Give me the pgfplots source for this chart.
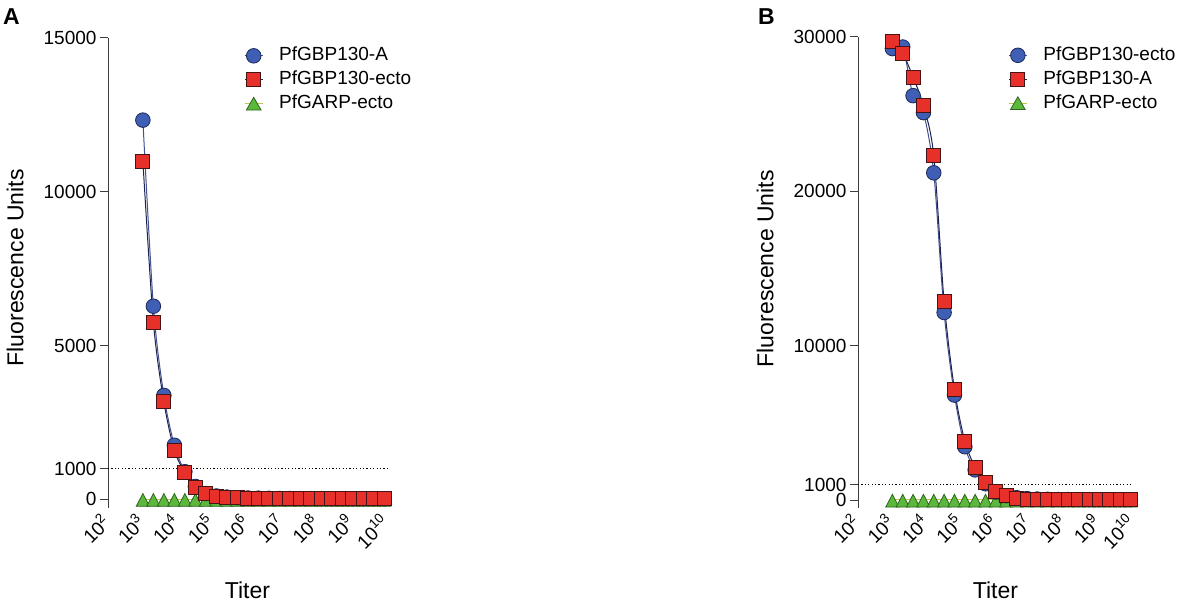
\documentclass[border=0pt]{standalone}
\usepackage{fontspec}
\setmainfont{Liberation Sans}
\usepackage{pgfplots}
\pgfplotsset{compat=1.18}
\usepackage{pgfplotstable}

\definecolor{cblue}{RGB}{63,95,181}
\definecolor{cblueedge}{RGB}{30,40,90}
\definecolor{cred}{RGB}{232,48,42}
\definecolor{credge}{RGB}{70,20,20}
\definecolor{cgreen}{RGB}{92,184,60}
\definecolor{cgreenedge}{RGB}{45,100,30}
\definecolor{lblue}{RGB}{65,80,145}
\definecolor{lnavy}{RGB}{30,35,80}
\definecolor{lgreen}{RGB}{190,200,70}
\definecolor{axgray}{RGB}{60,60,60}

\newcommand{\ex}[1]{\raisebox{0.42em}{\fontsize{13.5}{14}\selectfont #1}}

% Panel A: x = titer, a = PfGBP130-A, b = PfGBP130-ecto, c = PfGARP-ecto
\pgfplotstableread{
x a b c
1e3 12330 11000 10
2e3 6280 5770 10
4e3 3380 3170 10
8e3 1760 1600 10
1.6e4 900 870 10
3.2e4 420 400 10
6.4e4 190 185 10
1.28e5 110 100 10
2.56e5 75 70 10
5.12e5 55 50 10
1.024e6 45 40 10
2.048e6 40 35 10
4.096e6 35 30 10
8.192e6 30 28 10
1.6384e7 30 25 10
3.2768e7 25 25 10
6.5536e7 25 22 10
1.31072e8 25 20 10
2.62144e8 20 20 10
5.24288e8 20 20 10
1.048576e9 20 20 10
2.097152e9 20 20 10
4.194304e9 20 20 10
8.388608e9 20 20 10
}\dataA

% Panel B: x = titer, a = PfGBP130-ecto, b = PfGBP130-A, c = PfGARP-ecto
\pgfplotstableread{
x a b c
1e3 29250 29700 10
2e3 29350 28950 10
4e3 26200 27400 10
8e3 25100 25550 10
1.6e4 21200 22300 10
3.2e4 12150 12850 10
6.4e4 6800 7170 10
1.28e5 3450 3820 10
2.56e5 1950 2120 10
5.12e5 1050 1150 10
1.024e6 520 580 10
2.048e6 280 320 10
4.096e6 150 130 10
8.192e6 90 70 10
1.6384e7 60 50 10
3.2768e7 45 40 10
6.5536e7 35 30 10
1.31072e8 30 25 10
2.62144e8 25 25 10
5.24288e8 25 20 10
1.048576e9 20 20 10
2.097152e9 20 20 10
4.194304e9 20 20 10
8.388608e9 20 20 10
}\dataB

\tikzset{
  circ/.style={color=lblue, line width=1pt, mark=*, mark size=7.3pt,
    mark options={fill=cblue, draw=cblueedge, line width=0.8pt}, smooth},
  sq/.style={color=lnavy, line width=1pt, mark=square*, mark size=7pt,
    mark options={fill=cred, draw=credge, line width=0.8pt}, smooth},
  tri/.style={color=lgreen, line width=1pt, mark=triangle*, mark size=8.5pt,
    mark options={fill=cgreen, draw=cgreenedge, line width=0.8pt, xscale=0.9, yshift=-3pt}, smooth},
  trileg/.style={color=lgreen, line width=1pt, mark=triangle*, mark size=8.5pt,
    mark options={fill=cgreen, draw=cgreenedge, line width=0.8pt, yshift=-2pt}},
  thr/.style={black, line width=0.9pt, dash pattern=on 1.2pt off 2.2pt},
}

\begin{document}
\begin{tikzpicture}
% ---------------- Panel A ----------------
\begin{axis}[
  scale only axis,
  at={(108pt,97pt)}, anchor=south west,
  width=279pt, height=470pt,
  xmode=log, log basis x=10,
  xmin=1e2, xmax=1e10,
  ymin=-280, ymax=15000,
  scaled y ticks=false,
  axis x line*=bottom, axis y line*=left,
  x axis line style={draw=none},
  major x tick style={draw=none},
  xminorticks=false, yminorticks=false,
  xtick={1e2,1e3,1e4,1e5,1e6,1e7,1e8,1e9,1e10},
  xticklabels={10\ex{2},10\ex{3},10\ex{4},10\ex{5},10\ex{6},10\ex{7},10\ex{8},10\ex{9},10\ex{10}},
  xticklabel style={rotate=45, anchor=east, font=\fontsize{19}{22}\selectfont},
  ytick={0,1000,5000,10000,15000},
  yticklabels={0,1000,5000,10000,15000},
  yticklabel style={font=\fontsize{19}{22}\selectfont},
  tick align=outside, major tick length=8pt,
  y axis line style={axgray, line width=1pt},
  major y tick style={axgray, line width=1pt},
  clip=false,
  xlabel={Titer}, ylabel={Fluorescence Units},
  xlabel style={at={(axis description cs:0.5,-0.1745)}, anchor=center, font=\fontsize{23}{27}\selectfont},
  ylabel style={at={(axis description cs:-0.333,0.511)}, anchor=center, font=\fontsize{23}{27}\selectfont},
  legend style={at={(axis description cs:0.4875,0.988)}, draw=none, fill=none, anchor=north west, font=\fontsize{19}{22}\selectfont,
    inner sep=0pt, column sep=13pt, nodes={inner sep=3pt, text height=14pt, text depth=4pt}},
  legend cell align=left,
  legend image code/.code={\draw[mark repeat=2,mark phase=2,#1] plot coordinates {(0pt,0pt) (9pt,0pt) (18pt,0pt)};},
]
\addlegendimage{circ}
\addlegendimage{sq}
\addlegendimage{trileg}
\addplot[thr, forget plot] coordinates {(1e2,1000) (1e10,1000)};
\addplot[tri, forget plot] table[x=x, y=c] {\dataA};
\addplot[circ, forget plot] table[x=x, y=a] {\dataA};
\addplot[sq, forget plot] table[x=x, y=b] {\dataA};
\legend{PfGBP130-A, PfGBP130-ecto, PfGARP-ecto}
\end{axis}

% ---------------- Panel B ----------------
\begin{axis}[
  scale only axis,
  at={(858pt,97pt)}, anchor=south west,
  width=275pt, height=471pt,
  xmode=log, log basis x=10,
  xmin=1e2, xmax=1e10,
  ymin=-518, ymax=30000,
  scaled y ticks=false,
  axis x line*=bottom, axis y line*=left,
  x axis line style={draw=none},
  major x tick style={draw=none},
  xminorticks=false, yminorticks=false,
  xtick={1e2,1e3,1e4,1e5,1e6,1e7,1e8,1e9,1e10},
  xticklabels={10\ex{2},10\ex{3},10\ex{4},10\ex{5},10\ex{6},10\ex{7},10\ex{8},10\ex{9},10\ex{10}},
  xticklabel style={rotate=45, anchor=east, font=\fontsize{19}{22}\selectfont},
  ytick={0,1000,10000,20000,30000},
  yticklabels={0,1000,10000,20000,30000},
  yticklabel style={font=\fontsize{19}{22}\selectfont},
  tick align=outside, major tick length=8pt,
  y axis line style={axgray, line width=1pt},
  major y tick style={axgray, line width=1pt},
  clip=false,
  xlabel={Titer}, ylabel={Fluorescence Units},
  xlabel style={at={(axis description cs:0.5,-0.174)}, anchor=center, font=\fontsize{23}{27}\selectfont},
  ylabel style={at={(axis description cs:-0.338,0.508)}, anchor=center, font=\fontsize{23}{27}\selectfont},
  legend style={at={(axis description cs:0.546,0.987)}, draw=none, fill=none, anchor=north west, font=\fontsize{19}{22}\selectfont,
    inner sep=0pt, column sep=13pt, nodes={inner sep=3pt, text height=14pt, text depth=4pt}},
  legend cell align=left,
  legend image code/.code={\draw[mark repeat=2,mark phase=2,#1] plot coordinates {(0pt,0pt) (9pt,0pt) (18pt,0pt)};},
]
\addlegendimage{circ}
\addlegendimage{sq}
\addlegendimage{trileg}
\addplot[thr, forget plot] coordinates {(1e2,1000) (1e10,1000)};
\addplot[tri, forget plot] table[x=x, y=c] {\dataB};
\addplot[circ, forget plot] table[x=x, y=a] {\dataB};
\addplot[sq, forget plot] table[x=x, y=b] {\dataB};
\legend{PfGBP130-ecto, PfGBP130-A, PfGARP-ecto}
\end{axis}

\node[anchor=base west, inner sep=0pt, font=\fontsize{23}{27}\selectfont\bfseries] at (3pt,580pt) {A};
\node[anchor=base west, inner sep=0pt, font=\fontsize{23}{27}\selectfont\bfseries] at (758pt,580pt) {B};

\pgfresetboundingbox
\useasboundingbox (0,0) rectangle (1179pt,605pt);
\end{tikzpicture}
\end{document}
